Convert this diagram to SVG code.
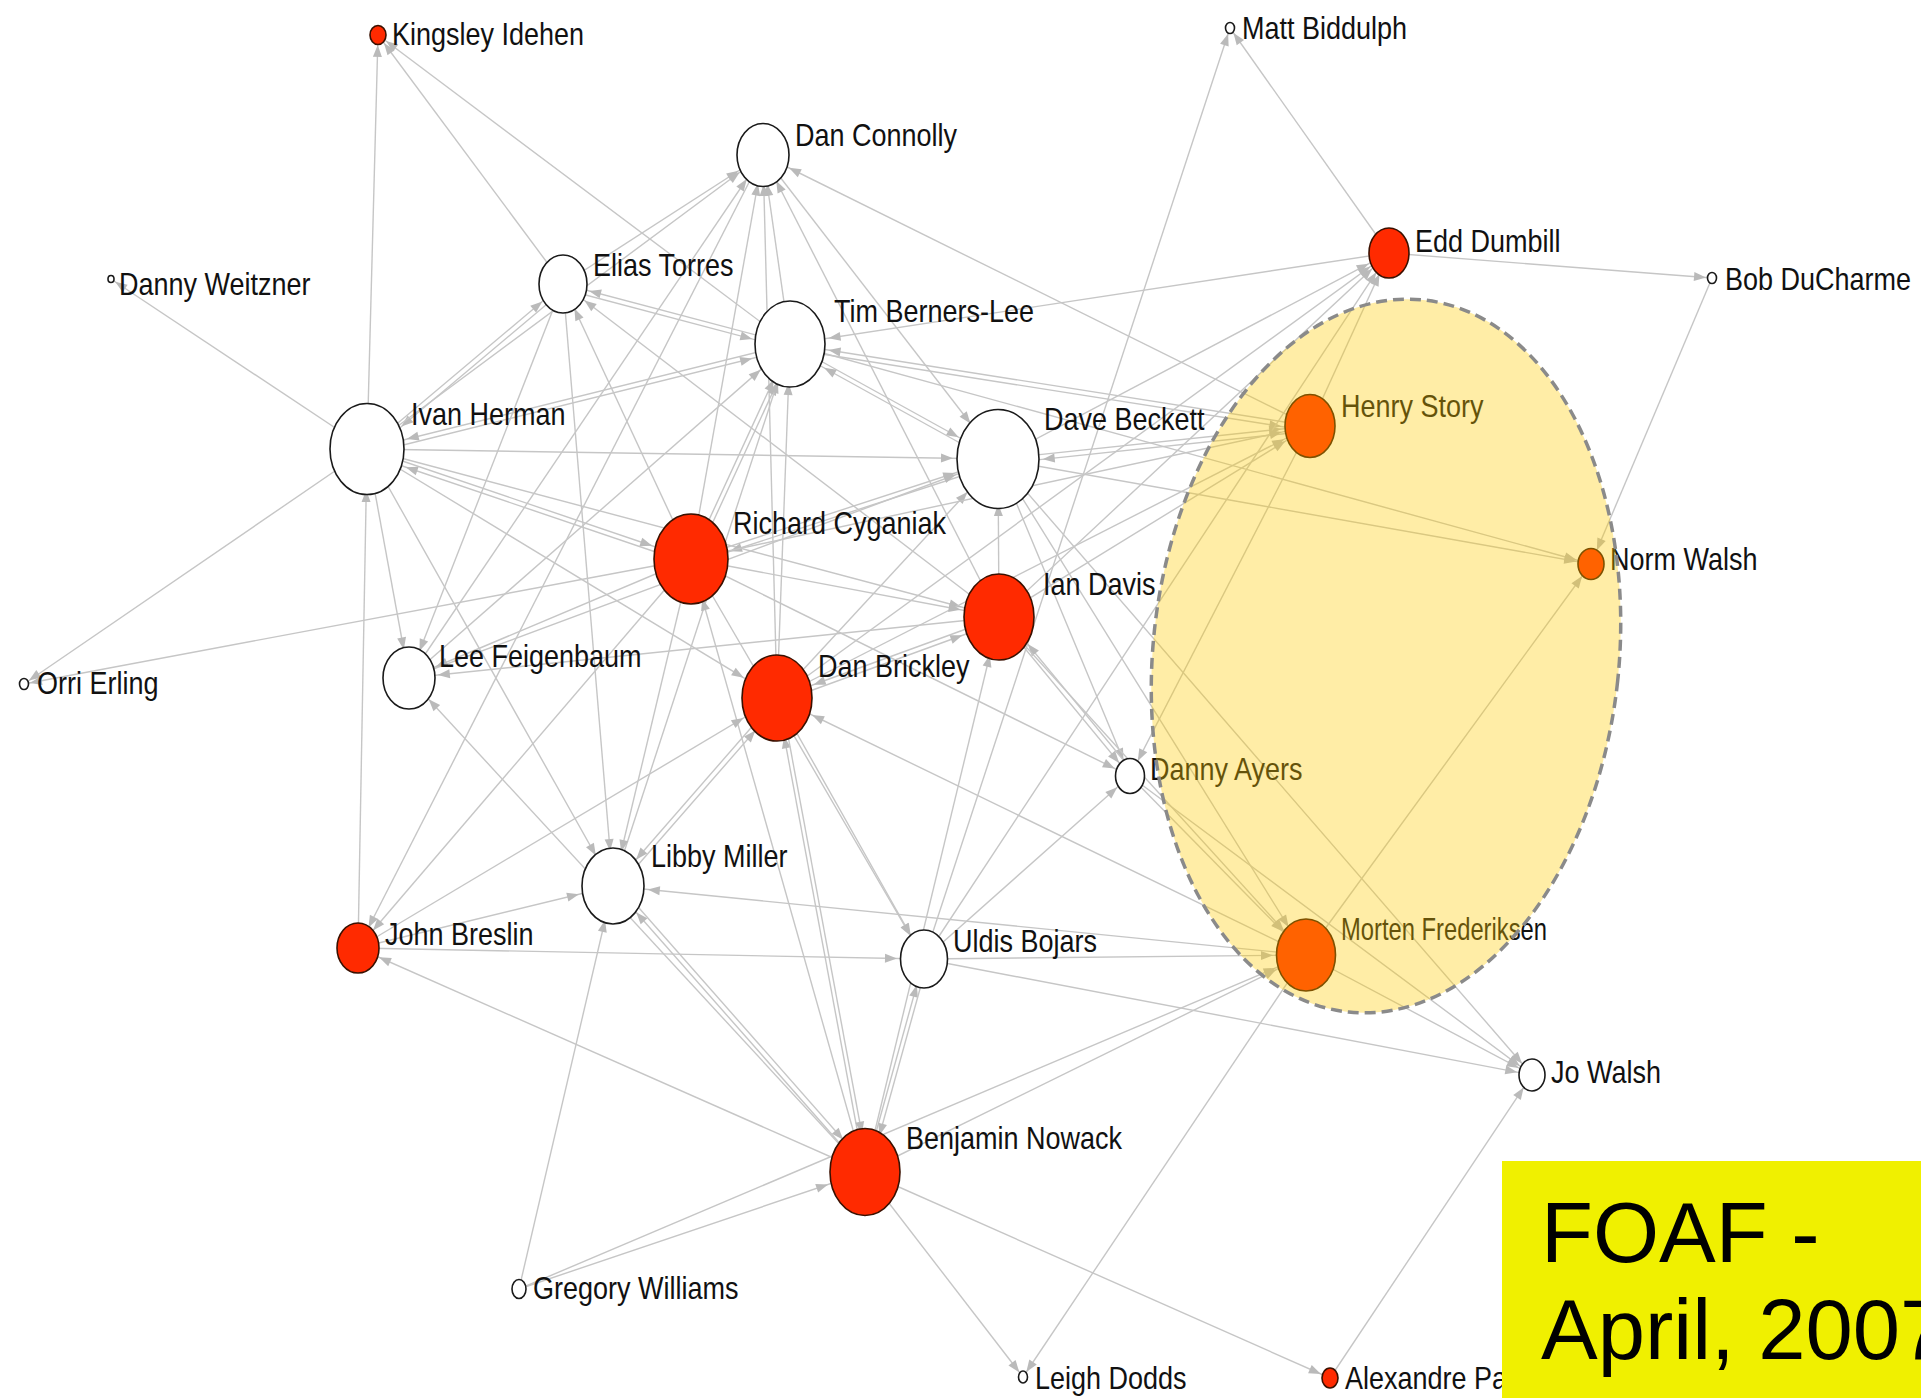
<svg xmlns="http://www.w3.org/2000/svg" width="1921" height="1398" viewBox="0 0 1921 1398">
<style>
.e{stroke:#c6c6c6;stroke-width:1.4;fill:none}
.lb{font-family:"Liberation Sans",Arial,sans-serif;font-size:27px;fill:#111}
.w{fill:#fff;stroke:#1a1a1a;stroke-width:1.6}
.r{fill:#ff2a00;stroke:#3a1000;stroke-width:1.6}
.ah{fill:#bababa}
.big{font-family:"Liberation Sans",Arial,sans-serif;font-size:85px;fill:#000}
</style>
<defs>
<marker id="a4" markerUnits="userSpaceOnUse" markerWidth="12" markerHeight="9" refX="17" refY="4.5" orient="auto" overflow="visible"><path class="ah" d="M0,0L12,4.5L0,9z"/></marker>
<marker id="a5" markerUnits="userSpaceOnUse" markerWidth="12" markerHeight="9" refX="18" refY="4.5" orient="auto" overflow="visible"><path class="ah" d="M0,0L12,4.5L0,9z"/></marker>
<marker id="a9" markerUnits="userSpaceOnUse" markerWidth="12" markerHeight="9" refX="22" refY="4.5" orient="auto" overflow="visible"><path class="ah" d="M0,0L12,4.5L0,9z"/></marker>
<marker id="a14" markerUnits="userSpaceOnUse" markerWidth="12" markerHeight="9" refX="27" refY="4.5" orient="auto" overflow="visible"><path class="ah" d="M0,0L12,4.5L0,9z"/></marker>
<marker id="a16" markerUnits="userSpaceOnUse" markerWidth="12" markerHeight="9" refX="29" refY="4.5" orient="auto" overflow="visible"><path class="ah" d="M0,0L12,4.5L0,9z"/></marker>
<marker id="a22" markerUnits="userSpaceOnUse" markerWidth="12" markerHeight="9" refX="35" refY="4.5" orient="auto" overflow="visible"><path class="ah" d="M0,0L12,4.5L0,9z"/></marker>
<marker id="a26" markerUnits="userSpaceOnUse" markerWidth="12" markerHeight="9" refX="39" refY="4.5" orient="auto" overflow="visible"><path class="ah" d="M0,0L12,4.5L0,9z"/></marker>
<marker id="a28" markerUnits="userSpaceOnUse" markerWidth="12" markerHeight="9" refX="41" refY="4.5" orient="auto" overflow="visible"><path class="ah" d="M0,0L12,4.5L0,9z"/></marker>
<marker id="a32" markerUnits="userSpaceOnUse" markerWidth="12" markerHeight="9" refX="45" refY="4.5" orient="auto" overflow="visible"><path class="ah" d="M0,0L12,4.5L0,9z"/></marker>
<marker id="a34" markerUnits="userSpaceOnUse" markerWidth="12" markerHeight="9" refX="47" refY="4.5" orient="auto" overflow="visible"><path class="ah" d="M0,0L12,4.5L0,9z"/></marker>
<marker id="a38" markerUnits="userSpaceOnUse" markerWidth="12" markerHeight="9" refX="51" refY="4.5" orient="auto" overflow="visible"><path class="ah" d="M0,0L12,4.5L0,9z"/></marker>
<marker id="a40" markerUnits="userSpaceOnUse" markerWidth="12" markerHeight="9" refX="53" refY="4.5" orient="auto" overflow="visible"><path class="ah" d="M0,0L12,4.5L0,9z"/></marker>
<marker id="a44" markerUnits="userSpaceOnUse" markerWidth="12" markerHeight="9" refX="57" refY="4.5" orient="auto" overflow="visible"><path class="ah" d="M0,0L12,4.5L0,9z"/></marker>
</defs>
<rect width="1921" height="1398" fill="#fff"/>
<g id="connectors" class="e">
<line x1="367" y1="449" x2="378" y2="35" marker-end="url(#a9)"/>
<line x1="563" y1="284" x2="378" y2="35" marker-end="url(#a9)"/>
<line x1="790" y1="344" x2="378" y2="35" marker-end="url(#a9)"/>
<line x1="367" y1="449" x2="111" y2="279" marker-end="url(#a4)"/>
<line x1="367" y1="449" x2="24" y2="684" marker-end="url(#a5)"/>
<line x1="691" y1="559" x2="24" y2="684" marker-end="url(#a5)"/>
<line x1="367" y1="449" x2="563" y2="284" marker-end="url(#a26)"/>
<line x1="566" y1="288" x2="370" y2="453" marker-end="url(#a40)"/>
<line x1="563" y1="284" x2="763" y2="155" marker-end="url(#a28)"/>
<line x1="367" y1="449" x2="763" y2="155" marker-end="url(#a28)"/>
<line x1="790" y1="344" x2="763" y2="155" marker-end="url(#a28)"/>
<line x1="691" y1="559" x2="763" y2="155" marker-end="url(#a28)"/>
<line x1="777" y1="698" x2="763" y2="155" marker-end="url(#a28)"/>
<line x1="999" y1="617" x2="763" y2="155" marker-end="url(#a28)"/>
<line x1="1310" y1="426" x2="763" y2="155" marker-end="url(#a28)"/>
<line x1="763" y1="155" x2="998" y2="459" marker-end="url(#a44)"/>
<line x1="409" y1="678" x2="763" y2="155" marker-end="url(#a28)"/>
<line x1="763" y1="155" x2="358" y2="948" marker-end="url(#a22)"/>
<line x1="790" y1="344" x2="563" y2="284" marker-end="url(#a26)"/>
<line x1="563" y1="289" x2="790" y2="349" marker-end="url(#a38)"/>
<line x1="790" y1="344" x2="367" y2="449" marker-end="url(#a40)"/>
<line x1="367" y1="454" x2="790" y2="349" marker-end="url(#a38)"/>
<line x1="367" y1="449" x2="998" y2="459" marker-end="url(#a44)"/>
<line x1="367" y1="449" x2="691" y2="559" marker-end="url(#a40)"/>
<line x1="691" y1="564" x2="367" y2="454" marker-end="url(#a40)"/>
<line x1="367" y1="449" x2="999" y2="617" marker-end="url(#a38)"/>
<line x1="367" y1="449" x2="777" y2="698" marker-end="url(#a38)"/>
<line x1="367" y1="449" x2="613" y2="886" marker-end="url(#a34)"/>
<line x1="367" y1="449" x2="409" y2="678" marker-end="url(#a28)"/>
<line x1="358" y1="948" x2="367" y2="449" marker-end="url(#a40)"/>
<line x1="563" y1="284" x2="409" y2="678" marker-end="url(#a28)"/>
<line x1="563" y1="284" x2="613" y2="886" marker-end="url(#a34)"/>
<line x1="691" y1="559" x2="563" y2="284" marker-end="url(#a26)"/>
<line x1="999" y1="617" x2="563" y2="284" marker-end="url(#a26)"/>
<line x1="790" y1="344" x2="998" y2="459" marker-end="url(#a44)"/>
<line x1="998" y1="464" x2="790" y2="349" marker-end="url(#a38)"/>
<line x1="1310" y1="426" x2="790" y2="344" marker-end="url(#a38)"/>
<line x1="790" y1="349" x2="1310" y2="431" marker-end="url(#a28)"/>
<line x1="790" y1="344" x2="1591" y2="564" marker-end="url(#a14)"/>
<line x1="1389" y1="253" x2="790" y2="344" marker-end="url(#a38)"/>
<line x1="691" y1="559" x2="790" y2="344" marker-end="url(#a38)"/>
<line x1="695" y1="561" x2="794" y2="346" marker-end="url(#a40)"/>
<line x1="777" y1="698" x2="790" y2="344" marker-end="url(#a38)"/>
<line x1="409" y1="678" x2="790" y2="344" marker-end="url(#a38)"/>
<line x1="613" y1="886" x2="790" y2="344" marker-end="url(#a38)"/>
<line x1="998" y1="459" x2="1310" y2="426" marker-end="url(#a28)"/>
<line x1="1310" y1="431" x2="998" y2="464" marker-end="url(#a44)"/>
<line x1="998" y1="459" x2="1591" y2="564" marker-end="url(#a14)"/>
<line x1="999" y1="617" x2="998" y2="459" marker-end="url(#a44)"/>
<line x1="998" y1="459" x2="1130" y2="776" marker-end="url(#a16)"/>
<line x1="998" y1="459" x2="1306" y2="955" marker-end="url(#a32)"/>
<line x1="998" y1="459" x2="1532" y2="1075" marker-end="url(#a14)"/>
<line x1="691" y1="559" x2="998" y2="459" marker-end="url(#a44)"/>
<line x1="998" y1="464" x2="691" y2="564" marker-end="url(#a40)"/>
<line x1="777" y1="698" x2="998" y2="459" marker-end="url(#a44)"/>
<line x1="409" y1="678" x2="998" y2="459" marker-end="url(#a44)"/>
<line x1="998" y1="459" x2="1389" y2="253" marker-end="url(#a22)"/>
<line x1="999" y1="617" x2="1389" y2="253" marker-end="url(#a22)"/>
<line x1="777" y1="698" x2="1389" y2="253" marker-end="url(#a22)"/>
<line x1="1310" y1="426" x2="1389" y2="253" marker-end="url(#a22)"/>
<line x1="924" y1="959" x2="1389" y2="253" marker-end="url(#a22)"/>
<line x1="924" y1="959" x2="1230" y2="28" marker-end="url(#a5)"/>
<line x1="1389" y1="253" x2="1230" y2="28" marker-end="url(#a5)"/>
<line x1="1389" y1="253" x2="1712" y2="278" marker-end="url(#a5)"/>
<line x1="1712" y1="278" x2="1591" y2="564" marker-end="url(#a14)"/>
<line x1="1306" y1="955" x2="1591" y2="564" marker-end="url(#a14)"/>
<line x1="691" y1="559" x2="1310" y2="426" marker-end="url(#a28)"/>
<line x1="999" y1="617" x2="1310" y2="426" marker-end="url(#a28)"/>
<line x1="777" y1="698" x2="1310" y2="426" marker-end="url(#a28)"/>
<line x1="1310" y1="426" x2="1130" y2="776" marker-end="url(#a16)"/>
<line x1="691" y1="559" x2="1130" y2="776" marker-end="url(#a16)"/>
<line x1="999" y1="617" x2="1130" y2="776" marker-end="url(#a16)"/>
<line x1="1134" y1="773" x2="1003" y2="614" marker-end="url(#a38)"/>
<line x1="924" y1="959" x2="1130" y2="776" marker-end="url(#a16)"/>
<line x1="1130" y1="776" x2="1306" y2="955" marker-end="url(#a32)"/>
<line x1="1130" y1="776" x2="1532" y2="1075" marker-end="url(#a14)"/>
<line x1="999" y1="617" x2="1306" y2="955" marker-end="url(#a32)"/>
<line x1="924" y1="959" x2="1306" y2="955" marker-end="url(#a32)"/>
<line x1="865" y1="1172" x2="1306" y2="955" marker-end="url(#a32)"/>
<line x1="519" y1="1289" x2="1306" y2="955" marker-end="url(#a32)"/>
<line x1="1306" y1="955" x2="1532" y2="1075" marker-end="url(#a14)"/>
<line x1="1306" y1="955" x2="1023" y2="1377" marker-end="url(#a5)"/>
<line x1="1306" y1="955" x2="777" y2="698" marker-end="url(#a38)"/>
<line x1="1306" y1="955" x2="613" y2="886" marker-end="url(#a34)"/>
<line x1="924" y1="959" x2="1532" y2="1075" marker-end="url(#a14)"/>
<line x1="1330" y1="1378" x2="1532" y2="1075" marker-end="url(#a14)"/>
<line x1="865" y1="1172" x2="358" y2="948" marker-end="url(#a22)"/>
<line x1="865" y1="1172" x2="613" y2="886" marker-end="url(#a34)"/>
<line x1="617" y1="883" x2="869" y2="1169" marker-end="url(#a38)"/>
<line x1="865" y1="1172" x2="691" y2="559" marker-end="url(#a40)"/>
<line x1="865" y1="1172" x2="777" y2="698" marker-end="url(#a38)"/>
<line x1="781" y1="698" x2="869" y2="1172" marker-end="url(#a38)"/>
<line x1="865" y1="1172" x2="924" y2="959" marker-end="url(#a26)"/>
<line x1="928" y1="960" x2="869" y2="1173" marker-end="url(#a38)"/>
<line x1="865" y1="1172" x2="999" y2="617" marker-end="url(#a38)"/>
<line x1="865" y1="1172" x2="1023" y2="1377" marker-end="url(#a5)"/>
<line x1="865" y1="1172" x2="1330" y2="1378" marker-end="url(#a9)"/>
<line x1="519" y1="1289" x2="865" y2="1172" marker-end="url(#a38)"/>
<line x1="519" y1="1289" x2="613" y2="886" marker-end="url(#a34)"/>
<line x1="865" y1="1172" x2="409" y2="678" marker-end="url(#a28)"/>
<line x1="358" y1="948" x2="924" y2="959" marker-end="url(#a26)"/>
<line x1="691" y1="559" x2="924" y2="959" marker-end="url(#a26)"/>
<line x1="777" y1="698" x2="924" y2="959" marker-end="url(#a26)"/>
<line x1="358" y1="948" x2="613" y2="886" marker-end="url(#a34)"/>
<line x1="358" y1="948" x2="777" y2="698" marker-end="url(#a38)"/>
<line x1="691" y1="559" x2="358" y2="948" marker-end="url(#a22)"/>
<line x1="691" y1="559" x2="409" y2="678" marker-end="url(#a28)"/>
<line x1="999" y1="617" x2="409" y2="678" marker-end="url(#a28)"/>
<line x1="691" y1="559" x2="613" y2="886" marker-end="url(#a34)"/>
<line x1="777" y1="698" x2="613" y2="886" marker-end="url(#a34)"/>
<line x1="617" y1="889" x2="781" y2="701" marker-end="url(#a38)"/>
<line x1="999" y1="617" x2="777" y2="698" marker-end="url(#a38)"/>
<line x1="777" y1="703" x2="999" y2="622" marker-end="url(#a38)"/>
<line x1="691" y1="559" x2="999" y2="617" marker-end="url(#a38)"/>
</g>
<g id="n-kingsley-idehen"><ellipse class="r" cx="378" cy="35" rx="8" ry="9.5"/><text class="lb" transform="translate(392 45) scale(1 1.13)">Kingsley Idehen</text></g>
<g id="n-matt-biddulph"><ellipse class="w" cx="1230" cy="28" rx="4.5" ry="5.5"/><text class="lb" transform="translate(1242 39) scale(1 1.13)">Matt Biddulph</text></g>
<g id="n-dan-connolly"><ellipse class="w" cx="763" cy="155" rx="26" ry="31.5"/><text class="lb" transform="translate(795 146) scale(1 1.13)">Dan Connolly</text></g>
<g id="n-edd-dumbill"><ellipse class="r" cx="1389" cy="253" rx="20" ry="25"/><text class="lb" transform="translate(1415 252) scale(1 1.13)">Edd Dumbill</text></g>
<g id="n-bob-ducharme"><ellipse class="w" cx="1712" cy="278" rx="4.5" ry="5.5"/><text class="lb" transform="translate(1725 290) scale(1 1.13)">Bob DuCharme</text></g>
<g id="n-danny-weitzner"><ellipse class="w" cx="111" cy="279" rx="3" ry="3.5"/><text class="lb" transform="translate(119 295) scale(1 1.13)">Danny Weitzner</text></g>
<g id="n-elias-torres"><ellipse class="w" cx="563" cy="284" rx="24" ry="29"/><text class="lb" transform="translate(593 276) scale(1 1.13)">Elias Torres</text></g>
<g id="n-tim-berners-lee"><ellipse class="w" cx="790" cy="344" rx="35" ry="43"/><text class="lb" transform="translate(834 322) scale(1 1.13)">Tim Berners-Lee</text></g>
<g id="n-ivan-herman"><ellipse class="w" cx="367" cy="449" rx="37" ry="45.5"/><text class="lb" transform="translate(411 425) scale(1 1.13)">Ivan Herman</text></g>
<g id="n-dave-beckett"><ellipse class="w" cx="998" cy="459" rx="41" ry="49.5"/><text class="lb" transform="translate(1044 430) scale(1 1.13)">Dave Beckett</text></g>
<g id="n-henry-story"><ellipse class="r" cx="1310" cy="426" rx="25" ry="31.5"/><text class="lb" transform="translate(1341 417) scale(1 1.13)">Henry Story</text></g>
<g id="n-norm-walsh"><ellipse class="r" cx="1591" cy="564" rx="13" ry="15.5"/><text class="lb" transform="translate(1610 570) scale(1 1.13)">Norm Walsh</text></g>
<g id="n-richard-cyganiak"><ellipse class="r" cx="691" cy="559" rx="37" ry="45"/><text class="lb" transform="translate(733 534) scale(1 1.13)">Richard Cyganiak</text></g>
<g id="n-ian-davis"><ellipse class="r" cx="999" cy="617" rx="35" ry="43"/><text class="lb" transform="translate(1043 595) scale(1 1.13)">Ian Davis</text></g>
<g id="n-lee-feigenbaum"><ellipse class="w" cx="409" cy="678" rx="26" ry="31"/><text class="lb" transform="translate(439 667) scale(1 1.13)">Lee Feigenbaum</text></g>
<g id="n-orri-erling"><ellipse class="w" cx="24" cy="684" rx="4.5" ry="5.5"/><text class="lb" transform="translate(37 694) scale(1 1.13)">Orri Erling</text></g>
<g id="n-dan-brickley"><ellipse class="r" cx="777" cy="698" rx="35" ry="43"/><text class="lb" transform="translate(818 677) scale(1 1.13)">Dan Brickley</text></g>
<g id="n-danny-ayers"><ellipse class="w" cx="1130" cy="776" rx="14.5" ry="17.5"/><text class="lb" transform="translate(1150 780) scale(1 1.13)">Danny Ayers</text></g>
<g id="n-libby-miller"><ellipse class="w" cx="613" cy="886" rx="31" ry="38"/><text class="lb" transform="translate(651 867) scale(1 1.13)">Libby Miller</text></g>
<g id="n-john-breslin"><ellipse class="r" cx="358" cy="948" rx="21" ry="25"/><text class="lb" transform="translate(385 945) scale(1 1.13)">John Breslin</text></g>
<g id="n-uldis-bojars"><ellipse class="w" cx="924" cy="959" rx="23.5" ry="29"/><text class="lb" transform="translate(953 952) scale(1 1.13)">Uldis Bojars</text></g>
<g id="n-morten-frederiksen"><ellipse class="r" cx="1306" cy="955" rx="29.5" ry="36"/><text class="lb" transform="translate(1341 940) scale(1 1.13)" textLength="206" lengthAdjust="spacingAndGlyphs">Morten Frederiksen</text></g>
<g id="n-jo-walsh"><ellipse class="w" cx="1532" cy="1075" rx="13" ry="16"/><text class="lb" transform="translate(1551 1083) scale(1 1.13)">Jo Walsh</text></g>
<g id="n-benjamin-nowack"><ellipse class="r" cx="865" cy="1172" rx="35" ry="43.5"/><text class="lb" transform="translate(906 1149) scale(1 1.13)">Benjamin Nowack</text></g>
<g id="n-gregory-williams"><ellipse class="w" cx="519" cy="1289" rx="7" ry="9.5"/><text class="lb" transform="translate(533 1299) scale(1 1.13)">Gregory Williams</text></g>
<g id="n-leigh-dodds"><ellipse class="w" cx="1023" cy="1377" rx="4.5" ry="6"/><text class="lb" transform="translate(1035 1389) scale(1 1.13)">Leigh Dodds</text></g>
<g id="n-alexandre"><ellipse class="r" cx="1330" cy="1378" rx="8" ry="10"/><text class="lb" transform="translate(1345 1389) scale(1 1.13)">Alexandre Pa</text></g>
<g id="highlight"><ellipse cx="1386" cy="656" rx="233" ry="358" transform="rotate(6 1386 656)" fill="#ffcc00" fill-opacity="0.35" stroke="#8a8a8a" stroke-width="3.5" stroke-dasharray="11 6"/></g>
<g id="caption"><rect x="1502" y="1161" width="419" height="237" fill="#f0f000"/><text class="big" x="1541" y="1262">FOAF -</text><text class="big" x="1541" y="1359">April, 2007</text></g>
</svg>
